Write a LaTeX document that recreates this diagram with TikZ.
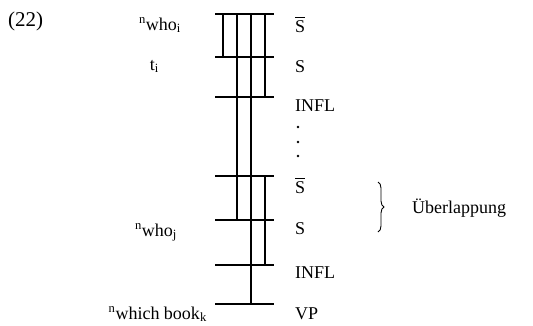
\documentclass[tikz,border=0pt]{standalone}
\usepackage{amsmath}
\usepackage{fontspec}
\setmainfont{Liberation Serif}
\usetikzlibrary{decorations.pathreplacing}

\begin{document}
\begin{tikzpicture}[x=1pt,y=-1pt,
        every node/.style={font=\fontsize{18}{21}\selectfont, inner sep=0pt},
        bar/.style={line width=1.2pt},
        cat/.style={anchor=base west},
        word/.style={anchor=base east}]
        \useasboundingbox (0,0) rectangle (533,325);

        % Levels and columns
        \foreach \n/\y in {1/14,2/57,3/97,4/176,5/220,6/265,7/304} {
            \coordinate (h\n) at (0,\y);
        }
        \foreach \c/\x in {a/223,b/237,c/251,d/265} {
            \coordinate (\c) at (\x,0);
        }
        \coordinate (bl) at (215,0);
        \coordinate (br) at (274,0);

        % Draw horizontal bars
        \foreach \n in {1,...,7} {
            \draw[bar] (bl |- h\n) -- (br |- h\n);
        }

        % Draw vertical lines
        \draw[bar] (a |- h1) -- (a |- h2);
        \draw[bar] (b |- h1) -- (b |- h5);
        \draw[bar] (c |- h1) -- (c |- h7);
        \draw[bar] (d |- h1) -- (d |- h3);
        \draw[bar] (d |- h4) -- (d |- h6);

        % Categories
        \node[cat] (sbar1) at (295,32) {$\overline{\mbox{S}}$};
        \node[cat] (s1) at (295,72) {S};
        \node[cat] (infl1) at (295,111) {INFL};
        \node[cat] (sbar2) at (295,193) {$\overline{\mbox{S}}$};
        \node[cat] (s2) at (295,234) {S};
        \node[cat] (infl2) at (295,278) {INFL};
        \node[cat] (vp) at (295,319) {VP};
        \foreach \y in {127,142,156} {
            \fill (298,\y) circle (1.4pt);
        }

        % Words
        \node[anchor=base west, font=\fontsize{21}{24}\selectfont] (num) at (8,26) {(22)};
        \node[word] (whoi) at (181,30) {\textsuperscript{n}who\textsubscript{i}};
        \node[word] (ti) at (159,70) {t\textsubscript{i}};
        \node[word] (whoj) at (177,236) {\textsuperscript{n}who\textsubscript{j}};
        \node[word] (bookk) at (207,319) {\textsuperscript{n}which book\textsubscript{k}};

        % Overlap brace
        \coordinate (brtop) at (378,182);
        \coordinate (brbot) at (378,232);
        \draw[line width=0.9pt, decorate, decoration={brace, amplitude=6pt}] (brtop) -- (brbot);
        \node[anchor=base west] (overlap) at (412,213) {Überlappung};
    \end{tikzpicture}
\end{document}
